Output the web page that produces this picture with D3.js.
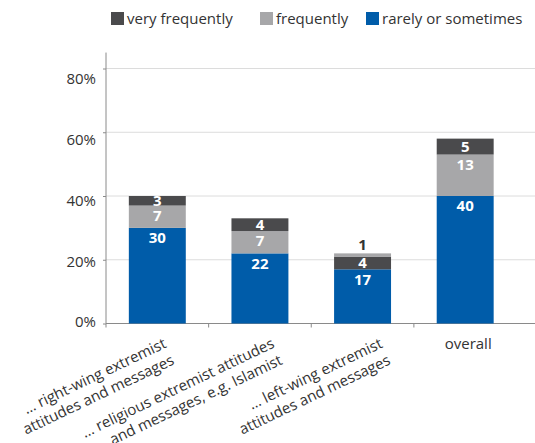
<!DOCTYPE html>
<html>
<head>
<meta charset="utf-8">
<script src="https://cdn.jsdelivr.net/npm/d3@7"></script>
<style>
  html, body { margin: 0; padding: 0; background: #fff; }
  svg { display: block; font-family: "Open Sans", sans-serif; }
</style>
</head>
<body>
<svg id="chart" width="535" height="443"></svg>
<script>
// ---- data ----
const categories = [
  ["… right-wing extremist", "attitudes and messages"],
  ["… religious extremist attitudes", "and messages, e.g. Islamist"],
  ["… left-wing extremist", "attitudes and messages"],
  ["overall"]
];
const rarelyOrSometimes = [30, 22, 17, 40];
const frequently = [7, 7, 1, 13];
const veryFrequently = [3, 4, 4, 5];
// stacking order per bar, bottom to top (as drawn in the source)
const stackOrders = [
  ["rarely", "frequently", "very"],
  ["rarely", "frequently", "very"],
  ["rarely", "very", "frequently"],
  ["rarely", "frequently", "very"]
];
const yTicks = [0, 20, 40, 60, 80];
const legendItems = [
  { key: "very", label: "very frequently" },
  { key: "frequently", label: "frequently" },
  { key: "rarely", label: "rarely or sometimes" }
];

const seriesValues = { rarely: rarelyOrSometimes, frequently: frequently, very: veryFrequently };
const colors = { very: "#4a4a4c", frequently: "#a7a7a9", rarely: "#005ca9" };
const textColor = "#333333";

const svg = d3.select("#chart");
const left = 106, right = 516.5, plotRightEdge = 535;
const x = d3.scaleBand().domain(d3.range(categories.length)).range([left, right]).paddingInner(0.445).paddingOuter(0.2225);
const y = d3.scaleLinear().domain([0, 80]).range([323.5, 68.5]);
// tick labels sit on a slightly compressed scale in the source
const yLab = d3.scaleLinear().domain([0, 80]).range([321.5, 78.5]);

// gridlines
svg.append("g").selectAll("line").data(yTicks.filter(d => d > 0)).join("line")
  .attr("x1", left).attr("x2", plotRightEdge)
  .attr("y1", d => y(d)).attr("y2", d => y(d))
  .attr("stroke", "#dcdcdc").attr("stroke-width", 1);

// y axis
const yAxis = svg.append("g").attr("transform", `translate(${left},0)`)
  .call(d3.axisLeft(y).tickValues(yTicks).tickSize(3).tickSizeOuter(0).tickFormat(d => d + "%"));
yAxis.select(".domain").attr("d", `M0,${y(85)}V${y(0)}`).attr("stroke", "#8a8a8a");
yAxis.selectAll(".tick line").attr("stroke", "#8a8a8a");
yAxis.selectAll(".tick text")
  .attr("x", -10)
  .attr("y", d => yLab(d) - y(d))
  .attr("dy", "0.35em")
  .attr("fill", textColor)
  .style("font-size", "15px")
  .style("font-family", "'Open Sans', sans-serif");

// x axis line + boundary ticks
svg.append("line").attr("x1", left).attr("x2", plotRightEdge)
  .attr("y1", y(0)).attr("y2", y(0)).attr("stroke", "#8a8a8a");
const boundaries = d3.range(categories.length).map(i => x(i) - x.step() * x.paddingInner() / 2);
svg.append("g").selectAll("line").data(boundaries).join("line")
  .attr("x1", d => d).attr("x2", d => d)
  .attr("y1", y(0)).attr("y2", y(0) + 4)
  .attr("stroke", "#8a8a8a");

// bars
const bars = svg.append("g");
categories.forEach((cat, i) => {
  let base = 0;
  const segs = stackOrders[i].map(k => {
    const v = seriesValues[k][i];
    const s = { key: k, v: v, y0: base, y1: base + v };
    base += v;
    return s;
  });
  const total = base;
  const g = bars.append("g");
  g.selectAll("rect").data(segs).join("rect")
    .attr("x", x(i)).attr("width", x.bandwidth())
    .attr("y", d => y(d.y1)).attr("height", d => y(d.y0) - y(d.y1))
    .attr("fill", d => colors[d.key]);
  g.selectAll("text").data(segs).join("text")
    .attr("x", x(i) + x.bandwidth() / 2)
    .attr("y", d => {
      const top = y(d.y1), bot = y(d.y0), h = bot - top;
      if (h < 6) return y(total) - 8.5;
      return Math.min((top + bot) / 2, top + 10);
    })
    .attr("dy", "0.35em")
    .attr("text-anchor", "middle")
    .attr("fill", d => (y(d.y0) - y(d.y1) < 6) ? textColor : "#ffffff")
    .style("font-size", "15px")
    .style("font-weight", "bold")
    .text(d => d.v);
});

// category labels
const labelBaseline = 347;
categories.forEach((lines, i) => {
  const cx = x(i) + x.bandwidth() / 2;
  if (lines.length > 1) {
    const g = svg.append("g")
      .attr("transform", `translate(${cx + 10 + 5.5 * i},${labelBaseline}) rotate(-25.5)`);
    g.selectAll("text").data(lines).join("text")
      .attr("x", 0).attr("y", (d, j) => j * 18.5)
      .attr("text-anchor", "end")
      .attr("fill", textColor)
      .style("font-size", "15px")
      .text(d => d);
  } else {
    svg.append("text")
      .attr("x", cx + 3).attr("y", labelBaseline + 2)
      .attr("text-anchor", "middle")
      .attr("fill", textColor)
      .style("font-size", "15px")
      .text(lines[0]);
  }
});

// legend
const legendX = [111, 260, 366];
const lg = svg.append("g");
legendItems.forEach((it, i) => {
  lg.append("rect").attr("x", legendX[i]).attr("y", 12).attr("width", 13).attr("height", 13)
    .attr("fill", colors[it.key]);
  lg.append("text").attr("x", legendX[i] + 16).attr("y", 23.5)
    .attr("fill", textColor).style("font-size", "15px").text(it.label);
});
</script>
</body>
</html>
